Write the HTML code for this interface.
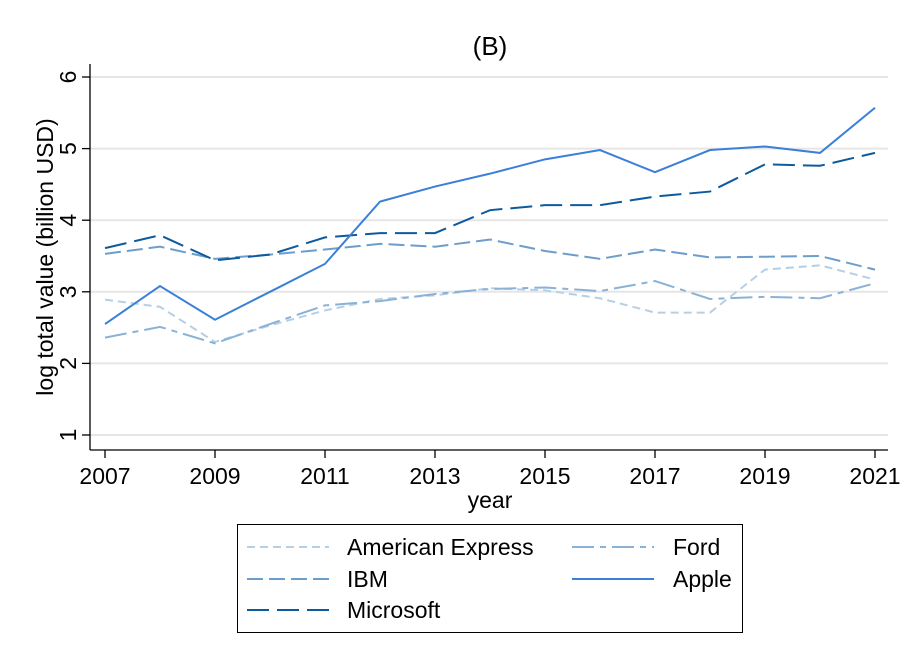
<!DOCTYPE html>
<html><head><meta charset="utf-8"><style>
body{margin:0;background:#fff;}
svg{display:block;font-family:"Liberation Sans",Arial,sans-serif;}
</style></head><body>
<svg width="913" height="664" viewBox="0 0 913 664">
<rect width="913" height="664" fill="#fff"/>
<text x="490" y="55" font-size="26" text-anchor="middle">(B)</text>
<g id="grid"></g>
<g id="axes"></g>
<g id="series"></g>
<text x="490" y="508" font-size="23" text-anchor="middle">year</text>
<text transform="translate(53,257) rotate(-90)" font-size="23" text-anchor="middle">log total value (billion USD)</text>
<g>
<rect x="237.5" y="524.5" width="505" height="108" fill="none" stroke="#000" stroke-width="1"/>
<g id="legend"></g>
</g>
</svg>
<script>
const years=[2007,2008,2009,2010,2011,2012,2013,2014,2015,2016,2017,2018,2019,2020,2021];
const amex=[2.89,2.79,2.30,2.53,2.74,2.90,2.95,3.05,3.02,2.91,2.71,2.71,3.31,3.37,3.17];
const ibm=[3.53,3.63,3.46,3.52,3.59,3.67,3.63,3.73,3.57,3.46,3.59,3.48,3.49,3.50,3.31];
const microsoft=[3.61,3.79,3.44,3.52,3.76,3.82,3.82,4.14,4.21,4.21,4.33,4.40,4.78,4.76,4.94];
const ford=[2.36,2.51,2.28,2.55,2.81,2.87,2.97,3.04,3.06,3.01,3.15,2.90,2.93,2.91,3.12];
const apple=[2.55,3.08,2.61,3.00,3.39,4.26,4.47,4.65,4.85,4.98,4.67,4.98,5.03,4.94,5.57];
const yTicks=[1,2,3,4,5,6];
const xTicks=[2007,2009,2011,2013,2015,2017,2019,2021];
const NS='http://www.w3.org/2000/svg';
const xs=y=>105+(y-2007)*55;
const ys=v=>435-(v-1)*71.6;
function mk(tag,attrs,parent,text){const e=document.createElementNS(NS,tag);for(const k in attrs)e.setAttribute(k,attrs[k]);if(text!==undefined)e.textContent=text;parent.appendChild(e);return e;}
const grid=document.getElementById('grid'),axes=document.getElementById('axes'),ser=document.getElementById('series'),leg=document.getElementById('legend');
yTicks.forEach(t=>{
 const g=mk('line',{x1:90,x2:888,y1:ys(t),y2:ys(t),stroke:'#e6e6e6','stroke-width':2},grid);
 
 
 const tk=mk('line',{x1:82,x2:90,y1:ys(t),y2:ys(t),stroke:'#000','stroke-width':1.3},axes);
 
 
 const tl=mk('text',{transform:`translate(76,${ys(t)}) rotate(-90)`,'font-size':23,'text-anchor':'middle'},axes,String(t));
 
 
});
const ya=mk('line',{x1:90,x2:90,y1:64,y2:450,stroke:'#000','stroke-width':1.3},axes);


const xa=mk('line',{x1:90,x2:888,y1:450,y2:450,stroke:'#000','stroke-width':1.3},axes);


xTicks.forEach(t=>{
 const tk=mk('line',{x1:xs(t),x2:xs(t),y1:450,y2:458,stroke:'#000','stroke-width':1.3},axes);
 
 
 const tl=mk('text',{x:xs(t),y:484,'font-size':23,'text-anchor':'middle'},axes,String(t));
 
 
});
const series=[
 {name:'american-express',label:'American Express',data:amex,color:'#b5cfe5',dash:'8 5',lx:247,tx:347,ly:547},
 {name:'ibm',label:'IBM',data:ibm,color:'#6c9dcb',dash:'16 6',lx:247,tx:347,ly:579},
 {name:'microsoft',label:'Microsoft',data:microsoft,color:'#0d5b9e',dash:'22 8',lx:247,tx:347,ly:610},
 {name:'ford',label:'Ford',data:ford,color:'#8ab2d6',dash:'22 6 6 6',lx:572,tx:673,ly:547},
 {name:'apple',label:'Apple',data:apple,color:'#3a7fd8',dash:'',lx:572,tx:673,ly:579}
];
series.forEach(s=>{
 const d=s.data.map((v,i)=>(i?'L':'M')+xs(years[i])+','+ys(v)).join('');
 const p=mk('path',{d:d,fill:'none',stroke:s.color,'stroke-width':2,'stroke-dasharray':s.dash},ser);
 
 
 const l=mk('line',{x1:s.lx,x2:s.lx+82,y1:s.ly,y2:s.ly,stroke:s.color,'stroke-width':2,'stroke-dasharray':s.dash},leg);
 
 
 const t=mk('text',{x:s.tx,y:s.ly+8,'font-size':23},leg,s.label);
 
 
});
</script>
</body></html>
